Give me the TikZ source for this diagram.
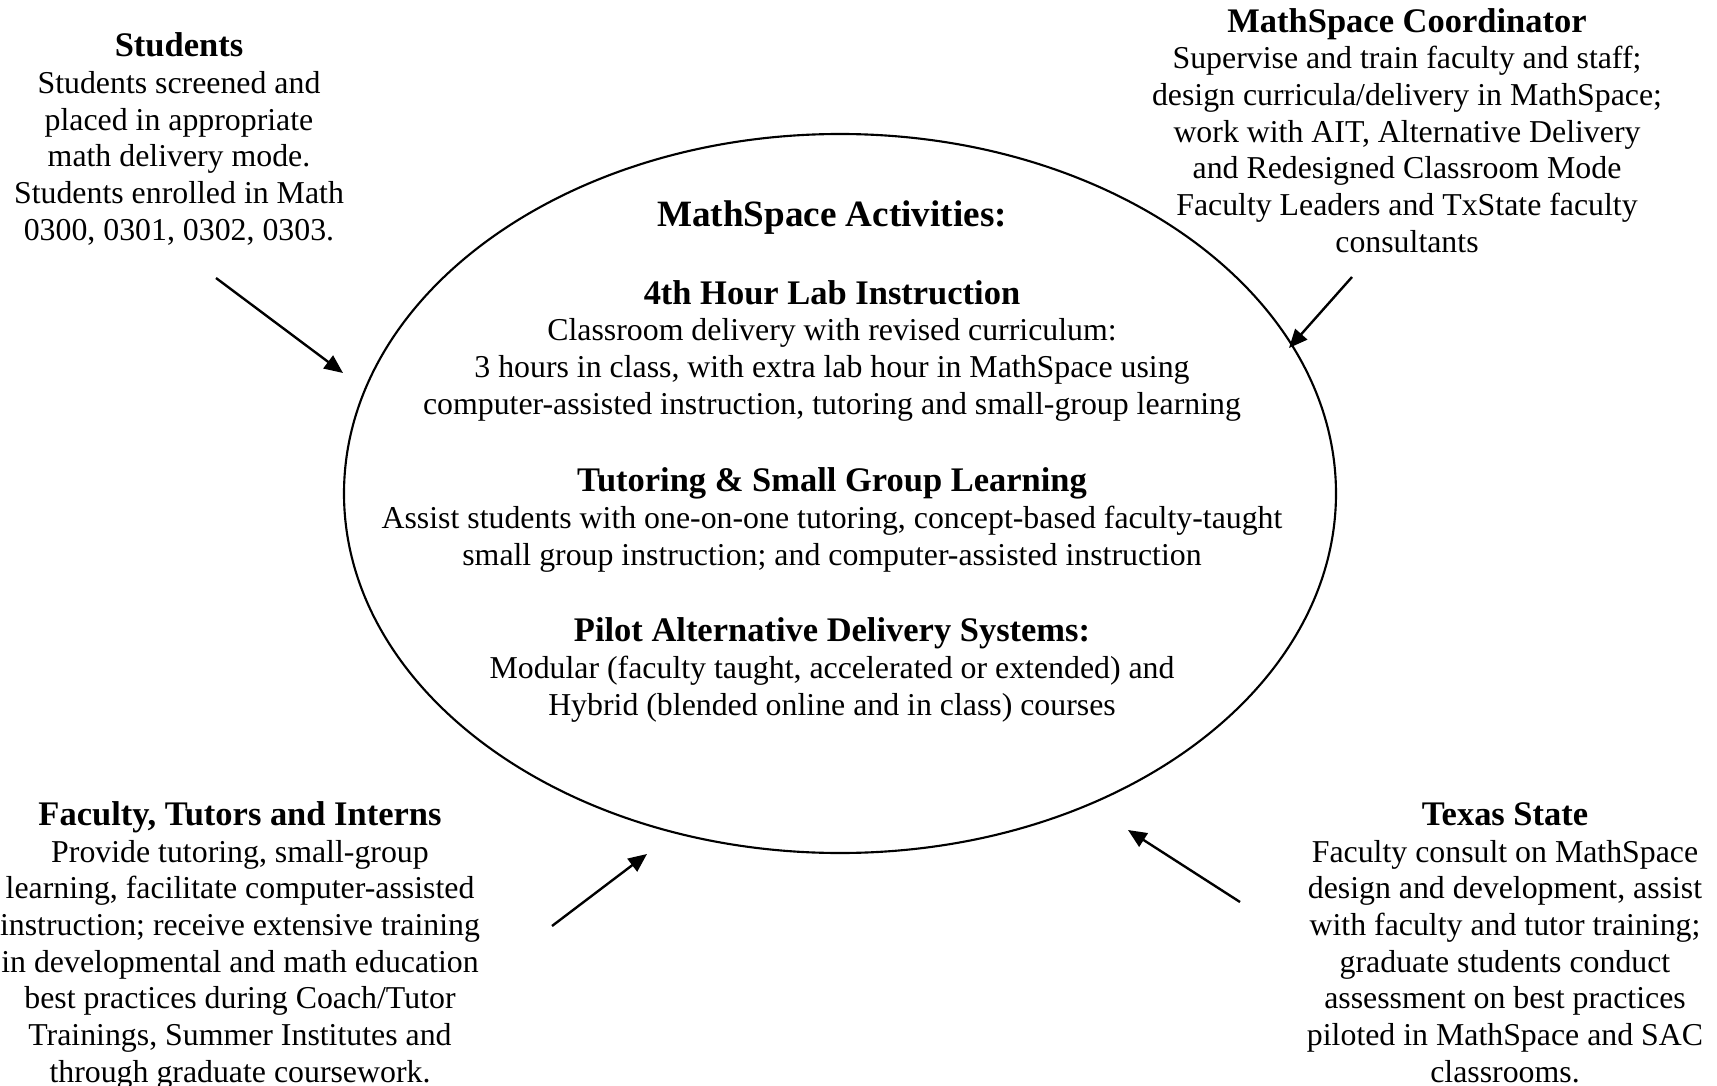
\documentclass[tikz,border=0pt]{standalone}
\usepackage{fontspec}
\setmainfont{Liberation Serif}
\usetikzlibrary{arrows.meta}

\newcommand{\ttl}[1]{{\fontsize{13}{13.8}\selectfont\bfseries #1}}

\begin{document}
\begin{tikzpicture}[x=0.377pt, y=-0.377pt,
    font=\fontsize{12}{13.8}\selectfont,
    blk/.style={anchor=base, align=center, inner sep=0pt},
    hd/.style={anchor=base, inner sep=0pt, font=\fontsize{14}{16}\selectfont\bfseries},
    arr/.style={-{Triangle[length=7pt,width=6pt]}, line width=0.9pt}]
  \useasboundingbox (0,0) rectangle (1717,1086);

  % Centre ellipse
  \draw[line width=0.8pt] (840,493.5) ellipse [x radius=496, y radius=359.5];

  % Activities inside (nodes sit on the baseline of their last line)
  \node[hd] (act) at (832,227) {MathSpace Activities:};
  \node[blk] (lab) at (832,414)
    {\ttl{4th Hour Lab Instruction}\\
     Classroom delivery with revised curriculum:\\
     3 hours in class, with extra lab hour in MathSpace using\\
     computer-assisted instruction, tutoring and small-group learning};
  \node[blk] (tut) at (832,565)
    {\ttl{Tutoring \& Small Group Learning}\\
     Assist students with one-on-one tutoring, concept-based faculty-taught\\
     small group instruction; and computer-assisted instruction};
  \node[blk] (pilot) at (832,715)
    {\ttl{Pilot Alternative Delivery Systems:}\\
     Modular (faculty taught, accelerated or extended) and\\
     Hybrid (blended online and in class) courses};

  % Corner groups
  \node[blk] (students) at (179,240)
    {\ttl{Students}\\
     Students screened and\\
     placed in appropriate\\
     math delivery mode.\\
     Students enrolled in Math\\
     0300, 0301, 0302, 0303.};
  \node[blk] (coord) at (1407,252)
    {\ttl{MathSpace Coordinator}\\
     Supervise and train faculty and staff;\\
     design curricula/delivery in MathSpace;\\
     work with AIT, Alternative Delivery\\
     and Redesigned Classroom Mode\\
     Faculty Leaders and TxState faculty\\
     consultants};
  \node[blk] (faculty) at (240,1082)
    {\ttl{Faculty, Tutors and Interns}\\
     Provide tutoring, small-group\\
     learning, facilitate computer-assisted\\
     instruction; receive extensive training\\
     in developmental and math education\\
     best practices during Coach/Tutor\\
     Trainings, Summer Institutes and\\
     through graduate coursework.};
  \node[blk] (txstate) at (1505,1082)
    {\ttl{Texas State}\\
     Faculty consult on MathSpace\\
     design and development, assist\\
     with faculty and tutor training;\\
     graduate students conduct\\
     assessment on best practices\\
     piloted in MathSpace and SAC\\
     classrooms.};

  % Arrows into the ellipse
  \coordinate (stu-s) at (216,278);
  \coordinate (stu-e) at (343,373);
  \coordinate (coo-s) at (1352,277);
  \coordinate (coo-e) at (1289,348);
  \coordinate (fac-s) at (552,926);
  \coordinate (fac-e) at (647,854);
  \coordinate (txs-s) at (1240,902);
  \coordinate (txs-e) at (1128,830);
  \draw[arr] (stu-s) -- (stu-e);
  \draw[arr] (coo-s) -- (coo-e);
  \draw[arr] (fac-s) -- (fac-e);
  \draw[arr] (txs-s) -- (txs-e);
\end{tikzpicture}
\end{document}
